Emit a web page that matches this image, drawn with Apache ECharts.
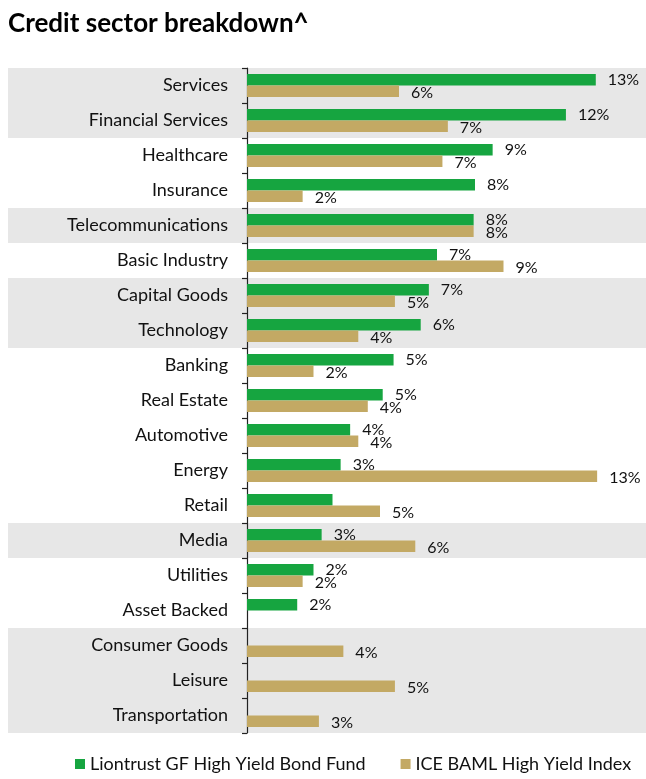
<!DOCTYPE html>
<html>
<head>
<meta charset="utf-8">
<script src="https://cdn.jsdelivr.net/npm/echarts@6/dist/echarts.min.js"></script>
<style>
	html, body { margin: 0; padding: 0; background: #fff; }
	#chart { width: 646px; height: 779px; }
</style>
</head>
<body>
<div id="chart"></div>
<script>
var categories = ['Services', 'Financial Services', 'Healthcare', 'Insurance', 'Telecommunications',
	'Basic Industry', 'Capital Goods', 'Technology', 'Banking', 'Real Estate', 'Automotive',
	'Energy', 'Retail', 'Media', 'Utilities', 'Asset Backed', 'Consumer Goods', 'Leisure', 'Transportation'];

// Liontrust GF High Yield Bond Fund
var fundValues = [12.85, 11.75, 9.05, 8.4, 8.35, 7.0, 6.7, 6.4, 5.4, 5.0, 3.8,
	3.45, 3.15, 2.75, 2.45, 1.85, 0, 0, 0];
// ICE BAML High Yield Index
var indexValues = [5.6, 7.4, 7.2, 2.05, 8.35, 9.45, 5.45, 4.1, 2.45, 4.45, 4.1,
	12.9, 4.9, 6.2, 2.05, 0, 3.55, 5.45, 2.65];

// rows drawn on a grey band
var shadedRows = ['Services', 'Financial Services', 'Telecommunications', 'Capital Goods', 'Technology',
	'Media', 'Consumer Goods', 'Leisure', 'Transportation'];
// the fund label for Retail is not shown in the original
var hiddenFundLabels = ['Retail'];

var seriesNames = ['Liontrust GF High Yield Bond Fund', 'ICE BAML High Yield Index'];

var chart = echarts.init(document.getElementById('chart'));
var font = 'Lato';

var percent = function(params) {
	if (!params.value) {
		return '';
	}
	return Math.round(params.value) + '%';
};

var option = {
	animation: false,
	textStyle: { fontFamily: font },
	title: {
		text: 'Credit sector breakdown^',
		left: 3,
		top: 6,
		textStyle: { fontFamily: font, fontWeight: 'bold', fontSize: 26, color: '#000' }
	},
	legend: {
		data: seriesNames,
		left: 70,
		top: 750,
		icon: 'rect',
		itemWidth: 10,
		itemHeight: 10,
		itemGap: 35,
		textStyle: { fontFamily: font, fontSize: 18, color: '#111' }
	},
	grid: {
		left: 247,
		right: 0,
		top: 68,
		bottom: 46
	},
	xAxis: {
		type: 'value',
		min: 0,
		max: 14.7,
		show: false
	},
	yAxis: {
		type: 'category',
		data: categories,
		inverse: true,
		axisLine: { lineStyle: { color: '#222', width: 1.2 } },
		axisTick: { show: true, length: 5, lineStyle: { color: '#222', width: 1.2 } },
		axisLabel: { fontFamily: font, fontSize: 18, color: '#111', margin: 19 }
	},
	series: [
		{
			type: 'custom',
			silent: true,
			clip: false,
			z: 0,
			data: shadedRows.map(function(name) {
				return [0, categories.indexOf(name)];
			}),
			renderItem: function(params, api) {
				var center = api.coord([0, api.value(1)]);
				var height = api.size([0, 1])[1];
				return {
					type: 'rect',
					shape: { x: 8, y: center[1] - height / 2, width: api.getWidth() - 8, height: height },
					style: { fill: '#e7e7e7' }
				};
			}
		},
		{
			name: seriesNames[0],
			type: 'bar',
			z: 2,
			barWidth: 11.5,
			barGap: '0%',
			itemStyle: { color: '#16a540' },
			label: {
				show: true,
				position: 'right',
				distance: 12,
				fontFamily: font,
				fontSize: 16,
				color: '#111',
				formatter: function(params) {
					if (hiddenFundLabels.indexOf(params.name) >= 0) {
						return '';
					}
					return percent(params);
				}
			},
			data: fundValues
		},
		{
			name: seriesNames[1],
			type: 'bar',
			z: 2,
			barWidth: 11.5,
			barGap: '0%',
			itemStyle: { color: '#c3a964' },
			label: {
				show: true,
				position: 'right',
				distance: 12,
				offset: [0, 2],
				fontFamily: font,
				fontSize: 16,
				color: '#111',
				formatter: percent
			},
			data: indexValues
		}
	]
};

chart.setOption(option);
</script>
</body>
</html>
